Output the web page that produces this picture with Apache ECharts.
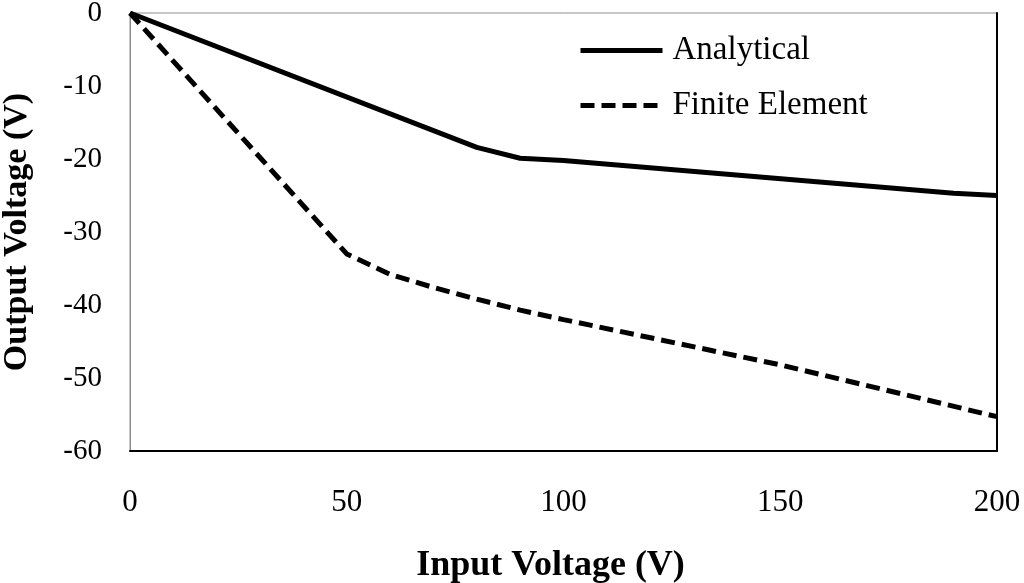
<!DOCTYPE html>
<html>
<head>
<meta charset="utf-8">
<script src="https://cdn.jsdelivr.net/npm/echarts@6/dist/echarts.min.js"></script>
<style>
  html, body { margin: 0; padding: 0; background: #fff; }
  #chart { width: 1024px; height: 583px; }
</style>
</head>
<body>
<div id="chart"></div>
<script>
// values
var analyticalX = [0, 80, 90, 100, 190, 200];
var analyticalY = [0, -18.4, -19.9, -20.2, -24.7, -25.0];
var feX = [0, 50, 60, 70, 80, 90, 100, 150, 200];
var feY = [0, -33.0, -35.8, -37.6, -39.2, -40.7, -42.0, -48.2, -55.3];
var seriesNames = ['Analytical', 'Finite Element'];

function pairs(xs, ys) {
    return xs.map(function (x, i) { return [x, ys[i]]; });
}

var chartDom = document.getElementById('chart');
var myChart = echarts.init(chartDom);
var font = '"Liberation Serif", "Times New Roman", serif';

var option = {
    animation: false,
    backgroundColor: '#fff',
    textStyle: { fontFamily: font },
    grid: {
        left: 130,
        right: 27,
        top: 13,
        bottom: 132,
        containLabel: false,
        outerBoundsMode: 'none',
        show: true,
        borderColor: '#8c8c8c',
        borderWidth: 1
    },
    legend: {
        orient: 'vertical',
        left: 573,
        top: 29,
        itemWidth: 82,
        itemHeight: 18,
        itemGap: 22,
        data: seriesNames,
        itemStyle: { opacity: 0 },
        lineStyle: { width: 5 },
        textStyle: { fontFamily: font, fontSize: 33, color: '#000', padding: [0, 0, 0, 5] }
    },
    xAxis: [{
        type: 'value',
        min: 0,
        max: 200,
        interval: 50,
        name: 'Input Voltage (V)',
        nameLocation: 'middle',
        nameGap: 97,
        nameTextStyle: { fontFamily: font, fontSize: 36, fontWeight: 'bold', color: '#000', padding: [0, 26, 0, 0] },
        axisLine: { show: true, onZero: false, lineStyle: { color: '#000', width: 2 } },
        axisTick: { show: false },
        splitLine: { show: false },
        axisLabel: { margin: 36, fontFamily: font, fontSize: 31, color: '#000' }
    }],
    yAxis: [{
        type: 'value',
        min: -60,
        max: 0,
        interval: 10,
        name: 'Output Voltage (V)',
        nameLocation: 'middle',
        nameGap: 96,
        nameTextStyle: { fontFamily: font, fontSize: 34, fontWeight: 'bold', color: '#000' },
        axisLine: { show: true, onZero: false, lineStyle: { color: '#8c8c8c', width: 1 } },
        axisTick: { show: false },
        splitLine: { show: false },
        axisLabel: { margin: 28, fontFamily: font, fontSize: 29, color: '#000' }
    }, {
        type: 'value',
        position: 'right',
        min: -60,
        max: 0,
        interval: 10,
        axisLine: { show: true, onZero: false, lineStyle: { color: '#000', width: 2 } },
        axisTick: { show: false },
        axisLabel: { show: false },
        splitLine: { show: false }
    }],
    series: [
        {
            name: seriesNames[0],
            type: 'line',
            symbol: 'none',
            data: pairs(analyticalX, analyticalY),
            lineStyle: { color: '#000', width: 5 },
            itemStyle: { color: '#000' }
        },
        {
            name: seriesNames[1],
            type: 'line',
            symbol: 'none',
            data: pairs(feX, feY),
            lineStyle: { color: '#000', width: 5, type: [14, 7] },
            itemStyle: { color: '#000' }
        }
    ]
};

myChart.setOption(option);
</script>
</body>
</html>
